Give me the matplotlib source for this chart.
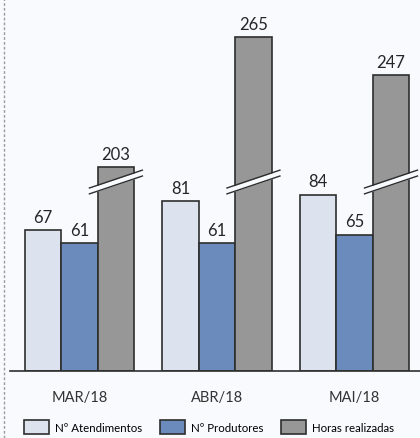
import matplotlib
matplotlib.use('Agg')
import matplotlib.pyplot as plt
from matplotlib.lines import Line2D
from matplotlib.patches import Patch
import numpy as np

plt.rcParams['font.family'] = ['Lato', 'DejaVu Sans']

# data
meses = ['MAR/18', 'ABR/18', 'MAI/18']
atendimentos = [67, 81, 84]
produtores = [61, 61, 65]
horas = [203, 265, 247]
series_names = ['Nº Atendimentos', 'Nº Produtores', 'Horas realizadas']

# broken axis for the tall series: drawn value = real value - offset
break_offset = 106
break_level = 90

bg = '#F8FAFE'
edge = '#2E2E2E'
c_at = '#DCE3EE'
c_pr = '#6B8BBD'
c_ho = '#979797'

fig = plt.figure(figsize=(4.2, 4.39), dpi=100)
fig.patch.set_facecolor(bg)
W, H = 420, 439
ax = fig.add_axes([10 / W, (H - 372) / H, 410 / W, 372 / H])
ax.set_facecolor(bg)

x = np.arange(len(meses))
w = 0.265
ax.set_xlim(-0.505, 2.476)
ax.set_ylim(0, 372 / 2.1)

def draw(xpos, real, drawn, color):
    ax.bar(xpos, drawn, width=w, color=color, edgecolor=edge, linewidth=1.2, zorder=2)
    for xi, r, d in zip(xpos, real, drawn):
        ax.text(xi, d + 2.5, str(r), ha='center', va='bottom', fontsize=12, color='#262626', zorder=4)

draw(x - w, atendimentos, atendimentos, c_at)
draw(x, produtores, produtores, c_pr)
horas_drawn = [h - break_offset for h in horas]
draw(x + w, horas, horas_drawn, c_ho)

# break marks on the tall bars
ext = 0.06
slope = 8.5 / (w + 2 * ext)
thick = 2.8
for xi in x + w:
    xs = np.array([xi - w / 2 - ext, xi + w / 2 + ext])
    ylo = break_level - thick / 2 + slope * (xs - xi)
    yhi = ylo + thick
    ax.fill_between(xs, ylo, yhi, color=bg, zorder=3, linewidth=0)
    ax.plot(xs, ylo, color=edge, lw=1.0, zorder=3.5)
    ax.plot(xs, yhi, color=edge, lw=1.0, zorder=3.5)

for s in ['top', 'right', 'left']:
    ax.spines[s].set_visible(False)
ax.spines['bottom'].set_color(edge)
ax.spines['bottom'].set_linewidth(1.2)
ax.set_yticks([])
ax.set_xticks(x)
ax.set_xticklabels(meses, fontsize=10.5, color='#333333')
ax.tick_params(axis='x', length=0, pad=14)

handles = [Patch(facecolor=c, edgecolor=edge, linewidth=1.2) for c in [c_at, c_pr, c_ho]]
fig.legend(handles, series_names, loc='center', bbox_to_anchor=(209 / W, (H - 428) / H),
           ncol=3, frameon=False, fontsize=8.3, handlelength=2.2, handleheight=1.4,
           handletextpad=0.5, columnspacing=1.5, borderaxespad=0)

# dashed frame line on the left
fig.add_artist(Line2D([3.5 / W, 3.5 / W], [0, 1], transform=fig.transFigure,
                      color='#9A9A9A', lw=1.0, ls=(0, (2, 1.5))))

fig.savefig('out.png', dpi=100, facecolor=bg)
